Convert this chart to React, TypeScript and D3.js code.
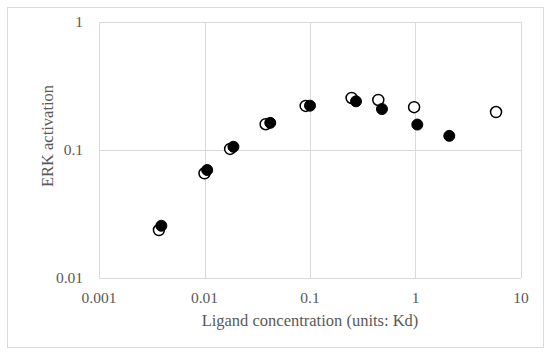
import React, { useEffect, useRef } from "react";
import * as d3 from "d3";

// values
const openX = [0.0037, 0.01, 0.0175, 0.038, 0.091, 0.248, 0.444, 0.97, 5.8];
const openY = [0.0237, 0.0658, 0.102, 0.159, 0.221, 0.255, 0.246, 0.216, 0.198];
const filledX = [0.0039, 0.0106, 0.0188, 0.042, 0.1, 0.273, 0.481, 1.04, 2.09];
const filledY = [0.0256, 0.0698, 0.106, 0.163, 0.222, 0.24, 0.209, 0.158, 0.129];
const xTicks = [0.001, 0.01, 0.1, 1, 10];
const yTicks = [0.01, 0.1, 1];
const xTitle = "Ligand concentration (units: Kd)";
const yTitle = "ERK activation";

const App = () => {
  const ref = useRef<SVGSVGElement>(null);

  useEffect(() => {
    const width = 550;
    const height = 354;
    const margin = { top: 22, right: 29, bottom: 76, left: 99 };

    const svg = d3.select(ref.current);
    svg.selectAll("*").remove();

    // outer frame
    svg
      .append("rect")
      .attr("x", 7.5)
      .attr("y", 7.5)
      .attr("width", 536)
      .attr("height", 340)
      .attr("fill", "white")
      .attr("stroke", "#d9d9d9");

    const x = d3
      .scaleLog()
      .domain([0.001, 10])
      .range([margin.left, width - margin.right]);
    const y = d3
      .scaleLog()
      .domain([0.01, 1])
      .range([height - margin.bottom, margin.top]);

    const grid = svg.append("g").attr("stroke", "#d9d9d9").attr("stroke-width", 1);
    grid
      .selectAll(".vx")
      .data(xTicks)
      .join("line")
      .attr("x1", (d) => Math.round(x(d)) + 0.5)
      .attr("x2", (d) => Math.round(x(d)) + 0.5)
      .attr("y1", y(1))
      .attr("y2", y(0.01));
    grid
      .selectAll(".hy")
      .data(yTicks)
      .join("line")
      .attr("y1", (d) => Math.round(y(d)) + 0.5)
      .attr("y2", (d) => Math.round(y(d)) + 0.5)
      .attr("x1", x(0.001))
      .attr("x2", x(10));

    const font = "'Liberation Serif', 'Times New Roman', serif";

    // tick labels
    svg
      .append("g")
      .selectAll("text")
      .data(xTicks)
      .join("text")
      .attr("x", (d) => x(d))
      .attr("y", height - margin.bottom + 25)
      .attr("text-anchor", "middle")
      .attr("font-family", font)
      .attr("font-size", 15.5)
      .attr("fill", "#595959")
      .text((d) => String(d));

    svg
      .append("g")
      .selectAll("text")
      .data(yTicks)
      .join("text")
      .attr("x", margin.left - 16)
      .attr("y", (d) => y(d) + 5)
      .attr("text-anchor", "end")
      .attr("font-family", font)
      .attr("font-size", 15.5)
      .attr("fill", "#595959")
      .text((d) => String(d));

    // axis titles
    svg
      .append("text")
      .attr("x", (x(0.001) + x(10)) / 2)
      .attr("y", 326)
      .attr("text-anchor", "middle")
      .attr("font-family", font)
      .attr("font-size", 16.5)
      .attr("fill", "#595959")
      .text(xTitle);

    svg
      .append("text")
      .attr("transform", "translate(53,136) rotate(-90)")
      .attr("text-anchor", "middle")
      .attr("font-family", font)
      .attr("font-size", 16.5)
      .attr("fill", "#595959")
      .text(yTitle);

    // open markers under the filled ones
    svg
      .append("g")
      .selectAll("circle")
      .data(openX.map((v, i) => [v, openY[i]]))
      .join("circle")
      .attr("cx", (d) => x(d[0]))
      .attr("cy", (d) => y(d[1]))
      .attr("r", 5.5)
      .attr("fill", "white")
      .attr("stroke", "black")
      .attr("stroke-width", 1.5);

    svg
      .append("g")
      .selectAll("circle")
      .data(filledX.map((v, i) => [v, filledY[i]]))
      .join("circle")
      .attr("cx", (d) => x(d[0]))
      .attr("cy", (d) => y(d[1]))
      .attr("r", 5.5)
      .attr("fill", "black")
      .attr("stroke", "black")
      .attr("stroke-width", 1);
  }, []);

  return (
    <svg
      ref={ref}
      width={550}
      height={354}
      style={{ position: "absolute", left: 0, top: 0, background: "white" }}
    />
  );
};

export default App;
